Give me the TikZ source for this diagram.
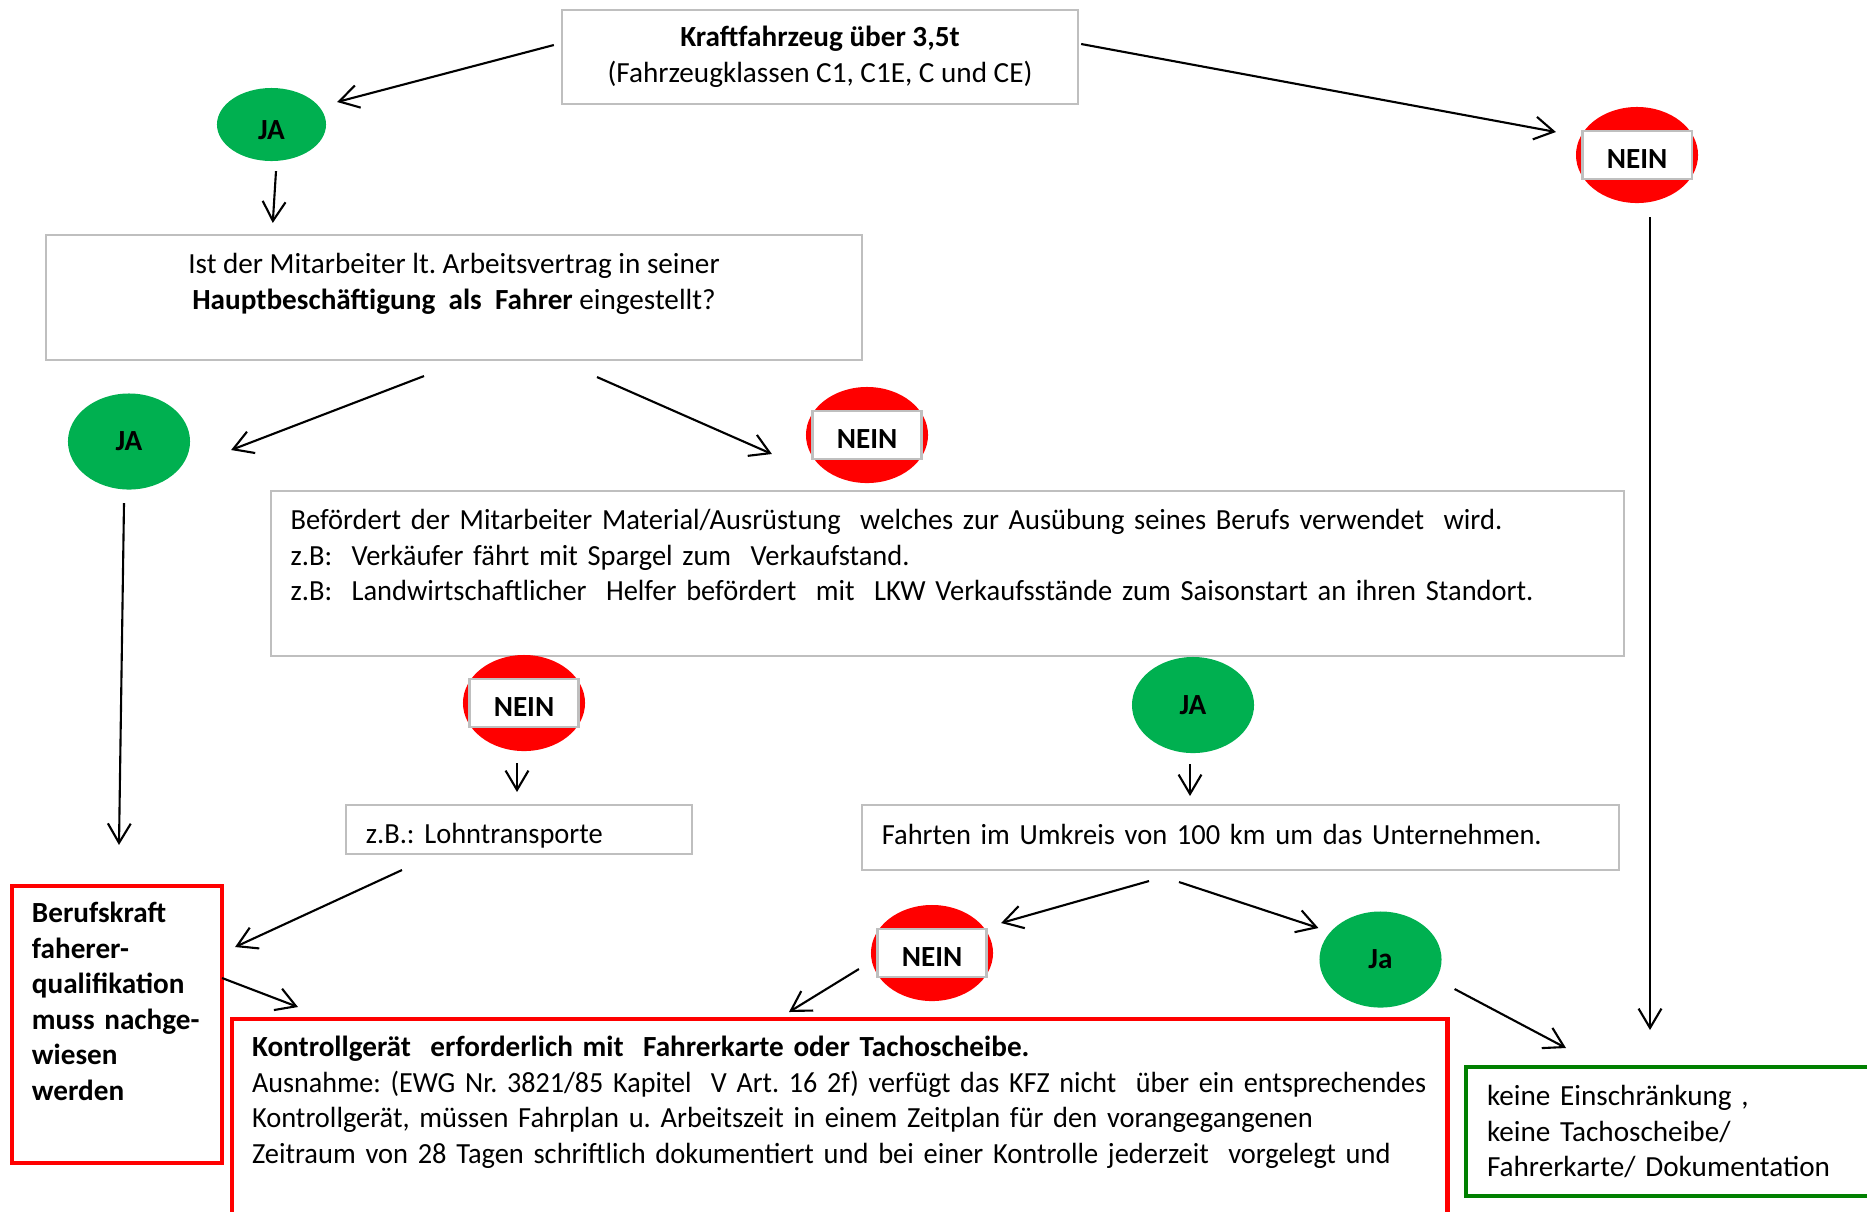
\documentclass[tikz,border=0pt]{standalone}
\usepackage{fontspec}
\setmainfont{Carlito}
\newfontfamily\schmal[FakeStretch=0.975]{Carlito}
\newfontfamily\schmaler[FakeStretch=0.963]{Carlito}
\usetikzlibrary{shapes.geometric,arrows.meta}

\definecolor{jagreen}{HTML}{00B050}
\definecolor{boxgray}{HTML}{BFBFBF}
\definecolor{okgreen}{HTML}{008000}
\newcommand{\diagfont}{\fontsize{8.3}{10.1}\selectfont\frenchspacing}

\tikzset{
  frage/.style={draw=boxgray, line width=0.6pt, inner sep=0pt, outer sep=0pt},
  rotbox/.style={draw=red, line width=1.3pt, inner sep=0pt, outer sep=0pt},
  gruenbox/.style={draw=okgreen, line width=1.3pt, inner sep=0pt, outer sep=0pt},
  ja/.style={ellipse, fill=jagreen, minimum width=1.22cm, minimum height=0.96cm,
    inner sep=0pt, font=\diagfont\bfseries},
  nein/.style={ellipse, fill=red, minimum width=1.22cm, minimum height=0.96cm, inner sep=0pt,
    label={[draw=boxgray, line width=0.6pt, fill=white, minimum width=1.09cm,
      minimum height=0.48cm, inner sep=0pt, text height=7.6pt, text depth=0pt,
      font=\diagfont\bfseries]center:NEIN}},
}

\begin{document}
\begin{tikzpicture}[x=0.01cm, y=-0.01cm, font=\diagfont, semithick,
    >={Straight Barb[length=5.5pt,width=6.5pt]}]
  \path[use as bounding box, clip] (0,0) rectangle (1867,1211);

  % Fragen
  \node[frage, minimum width=5.16cm, minimum height=0.94cm, align=center] (kfz) at (820,57)
    {\textbf{Kraftfahrzeug über 3,5t}\\(Fahrzeugklassen C1, C1E, C und CE)};
  \node[ja, minimum width=1.09cm, minimum height=0.73cm, text height=8.5pt, text depth=0pt]
    (ja1) at (271.5,124.5) {JA};
  \node[nein] (nein1) at (1637,155) {};
  \node[frage, minimum width=8.16cm, minimum height=1.25cm, align=center] (mit) at (454,297.5)
    {Ist der Mitarbeiter lt. Arbeitsvertrag in seiner\\
     \textbf{Hauptbeschäftigung\ \ als\ \ Fahrer} eingestellt?\\[-4pt]\strut};
  \node[ja] (ja2) at (129,441.5) {JA};
  \node[nein] (nein2) at (867,435) {};
  \node[frage, minimum height=1.65cm, text width=13.13cm, inner xsep=0.2cm, align=left,
    font=\diagfont\schmal] (beford) at (947.5,573.5)
    {Befördert der Mitarbeiter Material/Ausrüstung\ \ welches zur Ausübung seines Berufs verwendet\ \ wird.\\
     z.B:\ \ Verkäufer fährt mit Spargel zum\ \ Verkaufstand.\\
     z.B:\ \ Landwirtschaftlicher\ \ Helfer befördert\ \ mit\ \ LKW Verkaufsstände zum Saisonstart an ihren Standort.\\[-2.7pt]\strut};
  \node[nein] (nein3) at (524,703) {};
  \node[ja] (ja3) at (1193,705) {JA};
  \node[frage, minimum height=0.49cm, text width=3.06cm, inner xsep=0.2cm, align=left,
    text height=8pt, text depth=0pt, font=\diagfont\schmal] (lohn) at (519,829.5)
    {z.B.: Lohntransporte};
  \node[frage, minimum height=0.65cm, text width=7.17cm, inner xsep=0.2cm, align=left,
    text height=6.2pt, text depth=2.4pt, font=\diagfont\schmal] (fahrten) at (1240.5,837.5)
    {Fahrten im Umkreis von 100 km um das Unternehmen.};
  \node[nein] (nein4) at (932,953) {};
  \node[ja] (ja4) at (1380.5,959.5) {Ja};

  % Ergebnisse
  \node[rotbox, minimum height=2.77cm, text width=1.7cm, inner xsep=0.2cm, align=left,
    font=\diagfont\bfseries] (beruf) at (117,1024.5)
    {Berufskraft\\faherer-\\qualifikation\\muss nachge-\\wiesen\\werden\\\strut};
  \node[rotbox, anchor=north west, text width=11.75cm, inner xsep=0.2cm, inner ysep=0.17cm,
    align=left, font=\diagfont\schmal] (kontroll) at (232,1019)
    {{\normalfont\bfseries Kontrollgerät\ \ erforderlich mit\ \ Fahrerkarte oder Tachoscheibe.}\\
     \mbox{\schmaler Ausnahme: (EWG Nr. 3821/85 Kapitel\ \ V Art. 16 2f) verfügt das KFZ nicht\ \ über ein entsprechendes}\\
     Kontrollgerät, müssen Fahrplan u. Arbeitszeit in einem Zeitplan für den vorangegangenen\\
     Zeitraum von 28 Tagen schriftlich dokumentiert und bei einer Kontrolle jederzeit\ \ vorgelegt und\\
     \strut\\\strut};
  \node[gruenbox, anchor=north west, minimum height=1.29cm, text width=4.1cm, inner xsep=0.21cm,
    inner ysep=0.1cm, align=left] (keine) at (1466,1067)
    {keine Einschränkung ,\\keine Tachoscheibe/\\Fahrerkarte/ Dokumentation};

  \draw[->] ([shift={(-8,-12)}]kfz.west) -- ([shift={(10,-22.5)}]ja1.east);
  \draw[->] ([shift={(3,-13)}]kfz.east) -- ([shift={(-19,-23)}]nein1.west);
  \draw[->] ([shift={(4.5,9)}]ja1.south) -- ([shift={(227,-12)}]mit.north west);
  \draw[->] ([shift={(-30,16)}]mit.south) -- ([shift={(40,8.5)}]ja2.east);
  \draw[->] ([shift={(143,17)}]mit.south) -- ([shift={(-33,19)}]nein2.west);
  \draw[->] ([shift={(-5,12.5)}]ja2.south) -- ([shift={(2,-41)}]beruf.north);
  \draw[->] ([shift={(-7,11)}]nein3.south) -- ([shift={(-2,-13)}]lohn.north);
  \draw[->] ([shift={(-3,10)}]ja3.south) -- ([shift={(-50.5,-9)}]fahrten.north);
  \draw[->] ([shift={(-117,16)}]lohn.south) -- ([shift={(13,-77.5)}]beruf.east);
  \draw[->] ([shift={(-91.5,11)}]fahrten.south) -- ([shift={(7,-30)}]nein4.east);
  \draw[->] ([shift={(-61.5,12)}]fahrten.south) -- ([shift={(0,-31.5)}]ja4.west);
  \draw[->] ([shift={(-11,16)}]nein4.west) -- ([shift={(557,-7)}]kontroll.north west);
  \draw[->] ([shift={(12,29.5)}]ja4.east) -- ([shift={(100,-19)}]keine.north west);
  \draw[->] ([shift={(13,13)}]nein1.south) -- ([shift={(184,-37)}]keine.north west);
  \draw[->] ([shift={(0,-46.5)}]beruf.east) -- ([shift={(66,-12)}]kontroll.north west);
\end{tikzpicture}
\end{document}
